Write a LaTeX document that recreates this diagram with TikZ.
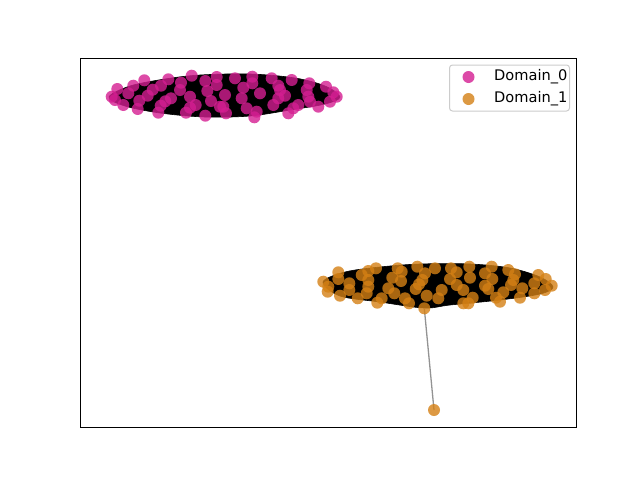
\documentclass[tikz,border=0pt]{standalone}
\usepackage{fontspec}
\setmainfont{DejaVu Sans}
\definecolor{dzero}{RGB}{212,30,145}
\definecolor{done}{RGB}{212,128,20}
\definecolor{legframe}{RGB}{204,204,204}
\tikzset{
  pz/.style={fill=dzero,fill opacity=0.8,draw=none},
  po/.style={fill=done,fill opacity=0.8,draw=none},
  hull/.style={fill=black,draw=black,line width=0.6pt},
  edgeline/.style={draw=gray!85,line width=1.3pt},
  legtext/.style={anchor=west,inner sep=0pt,font=\fontsize{14.6}{17}\selectfont}
}
\begin{document}
\begin{tikzpicture}[x=1pt,y=-1pt]
\useasboundingbox (0,0) rectangle (640,480);
% hulls
\path[hull] plot[smooth cycle,tension=0.55] coordinates {(109,97) (130,86) (165,79) (200,75) (250,74) (295,78) (325,86) (340,97) (325,104) (290,110) (250,116) (205,117) (160,113) (125,106)};
\path[hull] plot[smooth cycle,tension=0.55] coordinates {(323,282) (345,272) (380,267) (420,264) (470,264) (510,268) (540,277) (553,287) (540,294) (500,300) (450,305) (424,308) (380,302) (340,296)};
% outlier edge
\coordinate (hub) at (424.3,308.3);
\coordinate (out) at (434,410);
\draw[edgeline] (hub) -- (out);
% Domain 0 dots
\foreach \x/\y in {111.7/96.7,115/100,117.3/89,123.3/105,128.3/93.3,133.3/85.7,137.7/109,139.3/100.7,144.3/80.3,147.7/95.7,152.7/89.7,158.3/112.7,160.7/105.7,161/85.7,165.3/101.3,171/98.3,168.3/79.3,181/82.7,180/90,186/112.7,190/96.7,191.7/75.7,195.7/105,190/107.7,205.3/81,207.3/91,205.3/115.7,211/101,216.7/77,216.7/85,220/106.7,235/78.3,252.3/76.7,252.3/83.3,243.3/87.7,260/93.3,241.7/98.3,225/95,223.3/106.7,226/113.3,246.7/108.3,256.7/111.7,254.3/117.3,271.7/78.3,278.3/85.7,280/90,285/95.7,273.3/105,278.3/98.3,291.7/80,288.3/113.3,298.3/105,293.3/108.3,309.3/83.3,306.7/90,308.3/96.7,310/101.7,318.3/106.7,326/86.7,333.3/92.3,336.7/96.7,330/101.7}
  \path[pz] (\x,\y) circle (6);
% Domain 1 dots
\foreach \x/\y in {323.3/281.7,328.3/286.7,327.7/291.7,338.3/272.3,338.3/279,340/295.7,349.3/283.3,349.3/290,357.7/298.3,361.7/275,368.3/271,368.3/280,368.3/286.7,366.7/293.3,376/268.3,381.7/298.3,377.3/302.7,388.3/288.3,394.3/293.3,392.3/277.7,397.7/268.3,401.7/271.7,401/281,405/298.3,409/303.3,417.3/266.7,425/273.3,422.3/280,419/284.3,415.7/289,426.7/295.7,424.3/308.3,435/268.3,451/268.3,456.7/272.3,450/279,456.7/285,441.7/290,438.3/298.3,463.3/290,469.3/266.7,470/277.7,472.7/297.7,463.3/303.3,468.3/303.3,485/273.3,491.7/266.7,492.3/279,485/285.7,488.3/289,496/297.7,500/301.7,503.3/292.3,508.3/270,515/274.3,513.3/280,511/285,522.3/288.3,520/297.7,534.3/283.3,534.3/293.3,538.3/275,545.7/279,545/290,551.7/285.7,434/410}
  \path[po] (\x,\y) circle (6);
% axes frame
\draw[line width=0.85pt] (80,58) rectangle (576,427);
% legend
\draw[draw=legframe,fill=white,fill opacity=0.8,rounded corners=3pt,line width=1pt] (449.5,65) rectangle (569.5,111);
\path[pz] (468.5,77) circle (6);
\path[po] (468.5,99) circle (6);
\node[legtext] (l0) at (494,77) {Domain\_0};
\node[legtext] (l1) at (494,99) {Domain\_1};
\end{tikzpicture}
\end{document}
